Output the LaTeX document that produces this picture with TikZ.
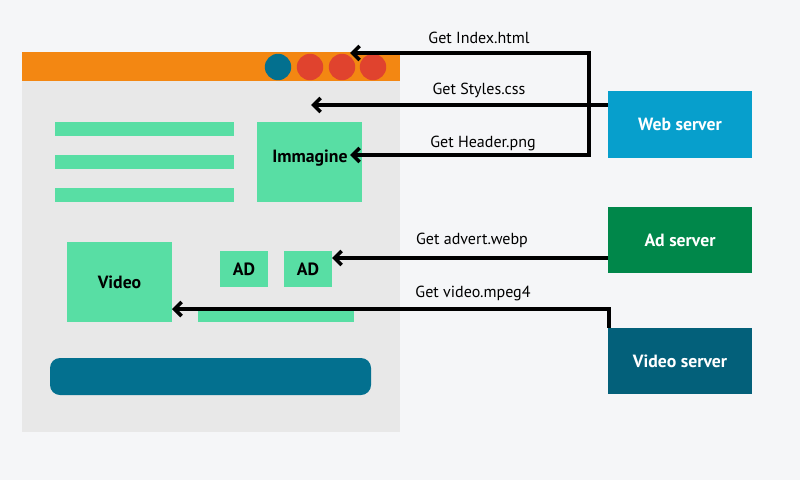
\documentclass[tikz,border=0pt]{standalone}
\usepackage{fontspec}
\setmainfont{PT Sans}
\usetikzlibrary{arrows.meta}
\definecolor{pagebg}{HTML}{F5F6F8}
\definecolor{panelgrey}{HTML}{E8E8E8}
\definecolor{barorange}{HTML}{F38712}
\definecolor{dotblue}{HTML}{03708F}
\definecolor{dotred}{HTML}{E0432E}
\definecolor{blockgreen}{HTML}{58DEA4}
\definecolor{webblue}{HTML}{079FCC}
\definecolor{adgreen}{HTML}{00874A}
\definecolor{vidteal}{HTML}{03607A}
\definecolor{footblue}{HTML}{03708F}
\tikzset{
 server/.style={minimum width=3.6cm, minimum height=1.66cm, inner sep=0, text=white,
   font=\bfseries\fontsize{12.6}{14}\selectfont},
 block/.style={fill=blockgreen, inner sep=0, font=\bfseries\fontsize{12.6}{14}\selectfont},
 req/.style={line width=2.6pt, -{Straight Barb[length=5pt,width=10pt]}},
 lbl/.style={inner sep=0, font=\fontsize{11.4}{13}\selectfont}
}
\begin{document}
\begin{tikzpicture}[x=0.025cm,y=-0.025cm]
 \fill[pagebg] (0,0) rectangle (800,480);
 \useasboundingbox (0,0) rectangle (800,480);

 \fill[panelgrey] (22,52) rectangle (400,432);
 \fill[barorange] (22,52) rectangle (400,81);
 \fill[dotblue] (278,67) circle [radius=0.33cm];
 \fill[dotred] (310,67) circle [radius=0.33cm];
 \fill[dotred] (342,67) circle [radius=0.33cm];
 \fill[dotred] (373,67) circle [radius=0.33cm];

 \fill[blockgreen] (55,122) rectangle (234,136);
 \fill[blockgreen] (55,155) rectangle (234,169);
 \fill[blockgreen] (55,188) rectangle (234,202);
 \node[block, minimum width=2.625cm, minimum height=2cm] (img) at (309.5,162) {};
 \node[font=\bfseries\fontsize{12.6}{14}\selectfont, inner sep=0] (imgtxt) at (310,158) {Immagine};

 \fill[blockgreen] (198,308) rectangle (354,322);
 \node[block, minimum width=2.625cm, minimum height=2cm] (video) at (119.5,282) {Video};
 \node[block, minimum width=1.2cm, minimum height=0.9cm] (ad1) at (244,269) {AD};
 \node[block, minimum width=1.2cm, minimum height=0.9cm] (ad2) at (308,269) {AD};

 \fill[footblue, rounded corners=0.25cm] (50,358) rectangle (371,395);

 \node[server, fill=webblue] (websrv) at (680,124.5) {Web server};
 \node[server, fill=adgreen] (adsrv) at (680,240) {Ad server};
 \node[server, fill=vidteal] (vidsrv) at (680,361) {Video server};

 \coordinate (fork) at (589,105);
 \coordinate (idxtip) at (350,53);
 \coordinate (stytip) at (311,105);
 \coordinate (imgtip) at (350,155);
 \coordinate (adtip) at (332,258);
 \coordinate (vidtip) at (172,309);

 \draw[req] (fork) |- (idxtip);
 \draw[req] (fork) |- (imgtip);
 \draw[req] (websrv.west |- stytip) -- (stytip);
 \draw[req] (adsrv.west |- adtip) -- (adtip);
 \draw[req] ([xshift=0.03cm]vidsrv.north west) |- (vidtip);

 \node[lbl] (idxlbl) at (479,38) {Get Index.html};
 \node[lbl] (stylbl) at (479,90) {Get Styles.css};
 \node[lbl] (imglbl) at (483,143) {Get Header.png};
 \node[lbl] (adlbl) at (472,240) {Get advert.webp};
 \node[lbl] (vidlbl) at (473,293) {Get video.mpeg4};
\end{tikzpicture}
\end{document}
